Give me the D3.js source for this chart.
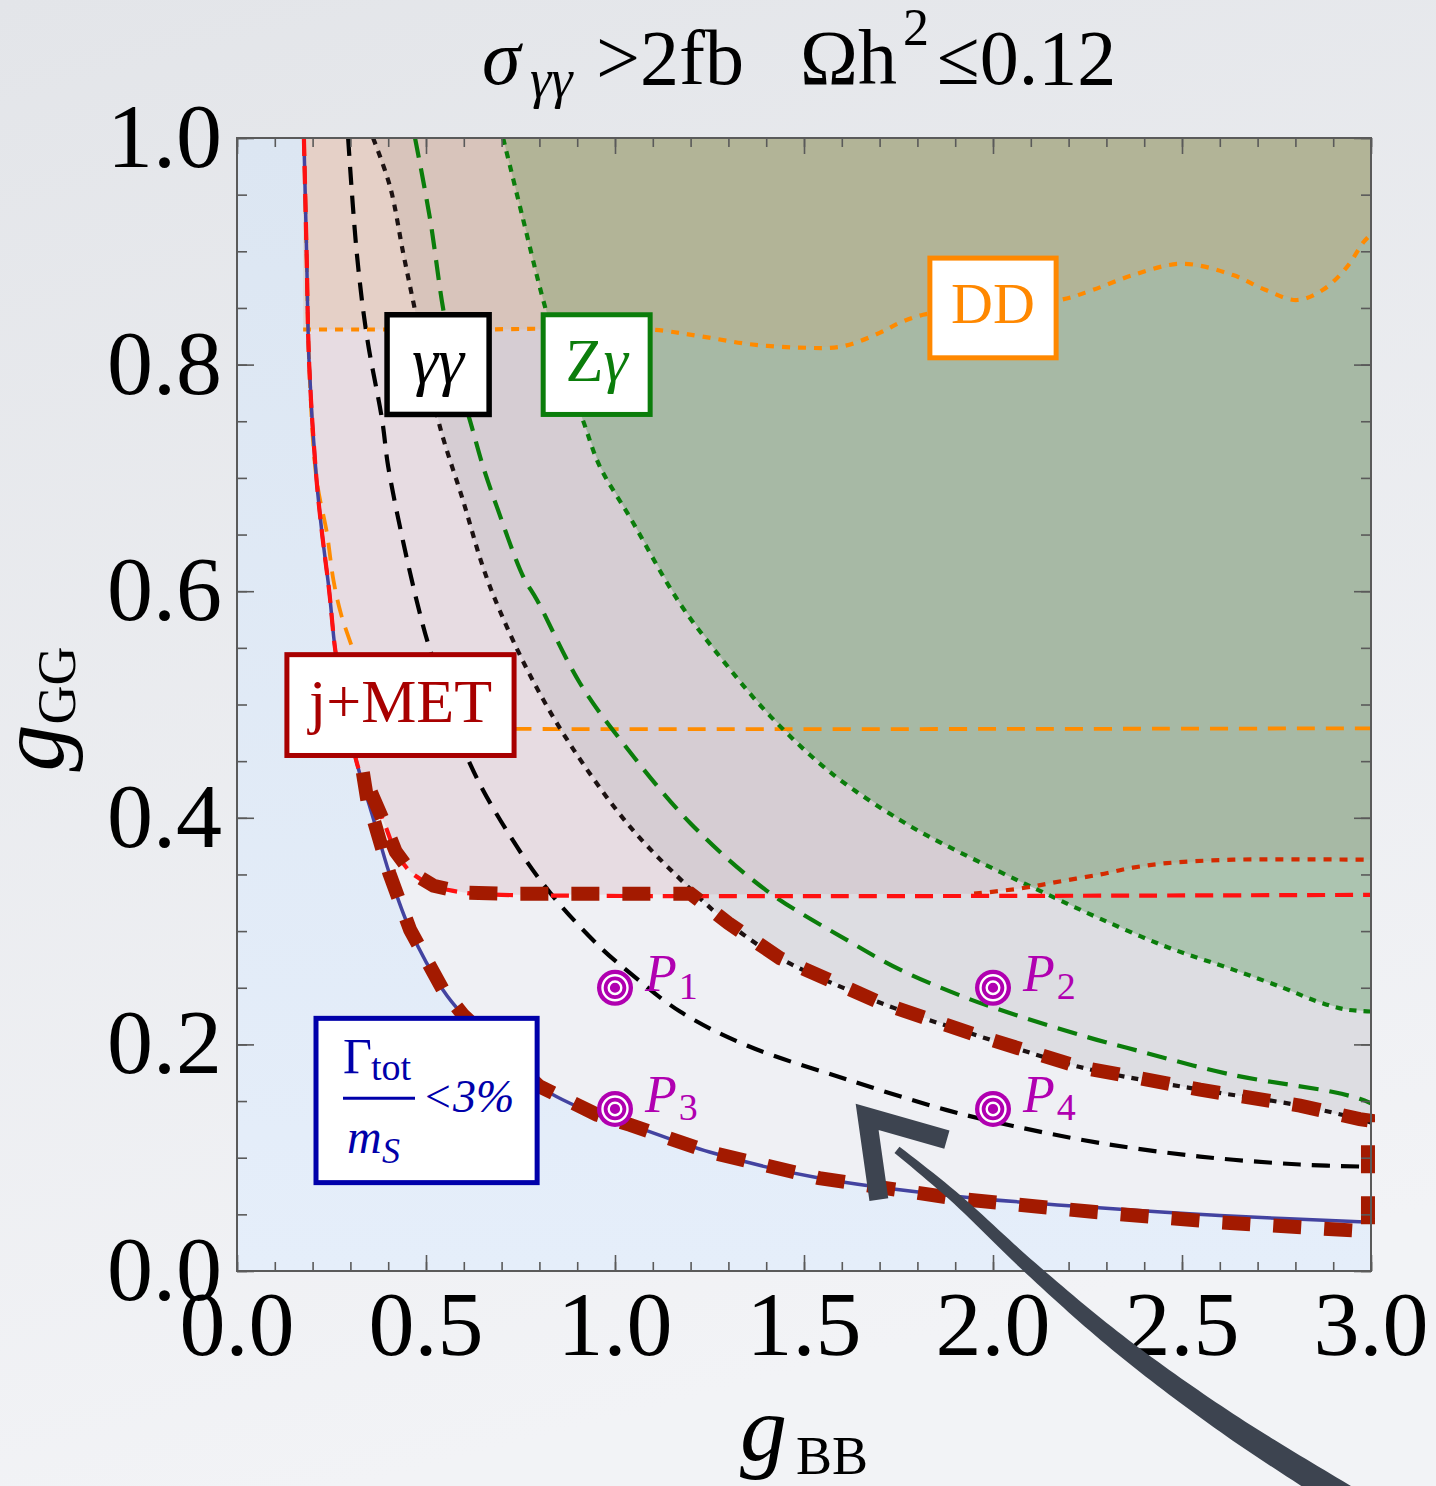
<!DOCTYPE html>
<html>
<head>
<meta charset="utf-8">
<script src="https://cdn.jsdelivr.net/npm/d3@7"></script>
<style>
  body { margin: 0; }
  svg { display: block; }
</style>
</head>
<body>
<svg id="chart" width="1436" height="1486"></svg>
<script>
// ---- data (g_BB, g_GG) ----
const xTickValues = [0, 0.5, 1, 1.5, 2, 2.5, 3];
const yTickValues = [0, 0.2, 0.4, 0.6, 0.8, 1.0];
const xTickLabels = ["0.0", "0.5", "1.0", "1.5", "2.0", "2.5", "3.0"];
const yTickLabels = ["0.0", "0.2", "0.4", "0.6", "0.8", "1.0"];

// Gamma_tot / m_S = 3% (solid blue)
const widthCurve = [[0.177,1.0],[0.184,0.9],[0.191,0.8],[0.21,0.7],[0.225,0.651],[0.244,0.6],[0.26,0.548],
  [0.285,0.5],[0.315,0.451],[0.36,0.40],[0.403,0.351],[0.458,0.301],[0.545,0.248],[0.598,0.226],[0.8,0.163],
  [0.952,0.138],[1.04,0.129],[1.25,0.105],[1.54,0.082],[1.9,0.066],[2.27,0.056],[2.6,0.049],[3.0,0.043]];
// j+MET bound (red dashed)
const metCurve = [[0.177,1.0],[0.184,0.9],[0.191,0.8],[0.21,0.7],[0.225,0.651],[0.244,0.6],[0.26,0.548],
  [0.285,0.5],[0.315,0.451],[0.333,0.433],[0.36,0.418],[0.39,0.395],[0.42,0.37],[0.46,0.352],[0.52,0.34],
  [0.6,0.334],[0.7,0.332],[3.0,0.332]];
// j+MET second bound (red dotted)
const metUpper = [[1.95,0.333],[2.08,0.338],[2.18,0.344],[2.283,0.35],[2.37,0.356],[2.46,0.36],[2.635,0.363],[3.0,0.363]];
// direct detection (orange dotted)
const ddCurve = [[0.175,0.831],[0.6,0.831],[1.09,0.831],[1.225,0.825],[1.357,0.818],[1.49,0.815],[1.6,0.816],
  [1.7,0.828],[1.754,0.837],[1.815,0.844],[1.9,0.848],[2.0,0.852],[2.177,0.857],[2.265,0.866],[2.37,0.879],
  [2.5,0.889],[2.635,0.879],[2.72,0.866],[2.804,0.857],[2.873,0.866],[2.936,0.886],[2.98,0.908],[3.0,0.915]];
// direct detection, second line (orange dashed)
const ddLower = [[0.177,1.0],[0.184,0.9],[0.191,0.8],[0.21,0.7],[0.238,0.651],[0.255,0.61],[0.275,0.58],
  [0.307,0.548],[0.34,0.515],[0.38,0.49],[0.43,0.48],[0.5,0.479],[3.0,0.479]];
// diphoton (black dashed / black dotted)
const aaLower = [[0.294,1.0],[0.317,0.898],[0.344,0.824],[0.384,0.751],[0.40,0.71],[0.44,0.643],[0.484,0.58],
  [0.511,0.548],[0.616,0.448],[0.73,0.38],[0.828,0.334],[0.96,0.286],[1.04,0.263],[1.172,0.229],[1.349,0.199],
  [1.614,0.169],[1.878,0.142],[2.053,0.128],[2.283,0.113],[2.548,0.101],[2.812,0.094],[3.0,0.092]];
const aaUpper = [[0.36,1.0],[0.405,0.957],[0.44,0.898],[0.471,0.848],[0.505,0.795],[0.537,0.745],[0.598,0.68],
  [0.651,0.621],[0.695,0.583],[0.775,0.526],[0.881,0.465],[1.04,0.392],[1.2,0.337],[1.3,0.307],[1.437,0.276],
  [1.7,0.237],[1.966,0.207],[2.23,0.18],[2.548,0.16],[2.812,0.146],[2.97,0.134],[3.0,0.131]];
// Z gamma (green dashed / green dotted)
const zaLower = [[0.471,1.0],[0.511,0.928],[0.545,0.85],[0.58,0.79],[0.616,0.751],[0.651,0.71],[0.688,0.674],
  [0.757,0.613],[0.794,0.592],[0.907,0.519],[1.021,0.466],[1.2,0.395],[1.4,0.336],[1.614,0.292],[1.754,0.266],
  [1.93,0.241],[2.06,0.226],[2.275,0.204],[2.354,0.197],[2.635,0.173],[2.9,0.158],[2.97,0.152],[3.0,0.148]];
const zaUpper = [[0.704,1.0],[0.757,0.928],[0.81,0.857],[0.86,0.8],[0.915,0.751],[0.96,0.71],[1.04,0.665],
  [1.17,0.59],[1.29,0.537],[1.41,0.49],[1.57,0.44],[1.754,0.398],[1.868,0.377],[2.02,0.352],[2.14,0.333],
  [2.283,0.311],[2.46,0.286],[2.635,0.266],[2.767,0.25],[2.857,0.238],[2.93,0.231],[3.0,0.229]];
// outline of the allowed region (thick dark red dashes)
const allowedLoop = [[0.333,0.44],[0.345,0.415],[0.36,0.40],[0.403,0.351],[0.458,0.301],[0.545,0.248],
  [0.598,0.226],[0.8,0.163],[0.952,0.138],[1.04,0.129],[1.25,0.105],[1.54,0.082],[1.9,0.064],[2.27,0.052],
  [2.6,0.043],[2.992,0.035],[2.992,0.133],[2.97,0.134],[2.812,0.146],[2.548,0.16],[2.23,0.18],[1.966,0.207],
  [1.7,0.237],[1.437,0.276],[1.3,0.307],[1.2,0.333],[0.7,0.333],[0.6,0.334],[0.52,0.34],[0.46,0.352],
  [0.42,0.37],[0.39,0.395],[0.36,0.418],[0.333,0.44]];
// benchmark points
const benchNames = ["1", "2", "3", "4"];
const benchX = [1.0, 2.0, 1.0, 2.0];
const benchY = [0.25, 0.25, 0.143, 0.143];

// hand drawn arrow (data units)
const arrowShaft = [[2.939,-0.202],[2.627,-0.136],[2.336,-0.065],[2.098,0.003],[1.899,0.065],[1.746,0.107]];
const arrowHead = [[1.878,0.116],[1.667,0.136],[1.698,0.063]];

// ---- layout ----
const W = 1436, H = 1486;
const x = d3.scaleLinear().domain([0, 3]).range([237, 1371]);
const y = d3.scaleLinear().domain([0, 1]).range([1271, 138]);
const serif = "'Liberation Serif', 'Times New Roman', serif";
const magenta = "#b000b0";

const svg = d3.select("#chart");
const defs = svg.append("defs");

const bg = defs.append("linearGradient").attr("id", "bg")
  .attr("x1", 0).attr("y1", 0).attr("x2", 0.25).attr("y2", 1);
bg.append("stop").attr("offset", "0%").attr("stop-color", "#e3e5e9");
bg.append("stop").attr("offset", "100%").attr("stop-color", "#f2f3f6");

const blueGrad = defs.append("linearGradient").attr("id", "blueGrad")
  .attr("x1", 0).attr("y1", 0).attr("x2", 0).attr("y2", 1);
blueGrad.append("stop").attr("offset", "0%").attr("stop-color", "#dce6f2");
blueGrad.append("stop").attr("offset", "100%").attr("stop-color", "#e5eefa");

defs.append("clipPath").attr("id", "plotClip").append("rect")
  .attr("x", x(0)).attr("y", y(1)).attr("width", x(3) - x(0)).attr("height", y(0) - y(1));

svg.append("rect").attr("width", W).attr("height", H).attr("fill", "url(#bg)");

const curveLine = d3.line().x(d => x(d[0])).y(d => y(d[1])).curve(d3.curveCatmullRom.alpha(0.5));
const polyLine = d3.line().x(d => x(d[0])).y(d => y(d[1]));

const plot = svg.append("g").attr("clip-path", "url(#plotClip)");
plot.append("rect")
  .attr("x", x(0)).attr("y", y(1)).attr("width", x(3) - x(0)).attr("height", y(0) - y(1))
  .attr("fill", "#eff0f4");

// shaded regions
const regions = [
  { pts: [[0, 0], [0, 1]].concat(widthCurve, [[3, 0]]), fill: "url(#blueGrad)", op: 1 },
  { pts: metCurve.filter(p => p[0] < 1.95).concat(metUpper, [[3, 1]]), fill: "#c98e9c", op: 0.2 },
  { pts: aaUpper.concat([[3, 1]]), fill: "#8a8890", op: 0.18 },
  { pts: zaUpper.concat([[3, 1]]), fill: "#3c8c3c", op: 0.3 },
  { pts: ddCurve.concat([[3, 1], [0.175, 1]]), fill: "#e0a060", op: 0.2 }
];
plot.selectAll("path.region")
  .data(regions)
  .join("path")
  .attr("class", "region")
  .attr("d", d => polyLine(d.pts) + "Z")
  .attr("fill", d => d.fill)
  .attr("fill-opacity", d => d.op);

// boundary lines
const lines = [
  { pts: ddLower, color: "#ff8c00", dash: "18,11", w: 3.8 },
  { pts: aaLower, color: "#000000", dash: "18,11", w: 4.2 },
  { pts: aaUpper, color: "#1c1212", dash: "7,7", w: 4.2 },
  { pts: zaLower, color: "#0b7d0b", dash: "20,11", w: 4.2 },
  { pts: zaUpper, color: "#0b7d0b", dash: "7,7", w: 4.2 },
  { pts: ddCurve, color: "#ff8a00", dash: "8,8", w: 4.2 },
  { pts: metUpper, color: "#d42a00", dash: "8,8", w: 4.2 },
  { pts: widthCurve, color: "#4343a0", dash: null, w: 3.5 },
  { pts: metCurve, color: "#ff1111", dash: "18,10", w: 4.2 }
];
plot.selectAll("path.bound")
  .data(lines)
  .join("path")
  .attr("class", "bound")
  .attr("d", d => curveLine(d.pts))
  .attr("fill", "none")
  .attr("stroke", d => d.color)
  .attr("stroke-width", d => d.w)
  .attr("stroke-dasharray", d => d.dash);

// allowed region outline
svg.append("path")
  .attr("d", polyLine(allowedLoop))
  .attr("fill", "none")
  .attr("stroke", "#a31a00")
  .attr("stroke-width", 14)
  .attr("stroke-dasharray", "28,23");

// frame and ticks
const frame = svg.append("g");
const axisColor = "#5a5a5a";
function tickAxis(axis, tx, ty) {
  const g = frame.append("g").attr("transform", `translate(${tx},${ty})`).call(axis);
  g.select(".domain").remove();
  g.selectAll("line").attr("stroke", axisColor).attr("stroke-width", 1.6);
  return g;
}
const xMinor = d3.range(0, 3.0001, 0.1);
const yMinor = d3.range(0, 1.0001, 0.05);
tickAxis(d3.axisBottom(x).tickValues(xMinor).tickSize(-9).tickFormat(""), 0, y(0));
tickAxis(d3.axisBottom(x).tickValues(xTickValues).tickSize(-16).tickFormat(""), 0, y(0));
tickAxis(d3.axisTop(x).tickValues(xMinor).tickSize(-9).tickFormat(""), 0, y(1));
tickAxis(d3.axisTop(x).tickValues(xTickValues).tickSize(-16).tickFormat(""), 0, y(1));
tickAxis(d3.axisLeft(y).tickValues(yMinor).tickSize(-10).tickFormat(""), x(0), 0);
tickAxis(d3.axisLeft(y).tickValues(yTickValues).tickSize(-17).tickFormat(""), x(0), 0);
tickAxis(d3.axisRight(y).tickValues(yMinor).tickSize(-10).tickFormat(""), x(3), 0);
tickAxis(d3.axisRight(y).tickValues(yTickValues).tickSize(-17).tickFormat(""), x(3), 0);
frame.append("rect")
  .attr("x", x(0)).attr("y", y(1)).attr("width", x(3) - x(0)).attr("height", y(0) - y(1))
  .attr("fill", "none").attr("stroke", axisColor).attr("stroke-width", 2);

// label boxes (data units)
const boxes = [
  { x0: 0.397, x1: 0.667, y0: 0.756, y1: 0.844, color: "#000000", w: 5.5 },
  { x0: 0.810, x1: 1.093, y0: 0.756, y1: 0.844, color: "#0b7d0b", w: 5 },
  { x0: 1.833, x1: 2.167, y0: 0.806, y1: 0.894, color: "#ff8800", w: 5 },
  { x0: 0.132, x1: 0.733, y0: 0.455, y1: 0.544, color: "#a80000", w: 5 },
  { x0: 0.209, x1: 0.794, y0: 0.078, y1: 0.223, color: "#0000aa", w: 5 }
];
const boxG = svg.append("g");
boxG.selectAll("rect")
  .data(boxes)
  .join("rect")
  .attr("x", d => x(d.x0)).attr("y", d => y(d.y1))
  .attr("width", d => x(d.x1) - x(d.x0)).attr("height", d => y(d.y0) - y(d.y1))
  .attr("fill", "#ffffff")
  .attr("stroke", d => d.color)
  .attr("stroke-width", d => d.w);

function boxText(b, dy, size) {
  return boxG.append("text")
    .attr("x", (x(b.x0) + x(b.x1)) / 2)
    .attr("y", (y(b.y0) + y(b.y1)) / 2 + dy)
    .attr("text-anchor", "middle")
    .attr("font-family", serif)
    .attr("font-size", size)
    .attr("fill", b.color);
}
boxText(boxes[0], 18, 66).attr("font-style", "italic").text("γγ");
const zt = boxText(boxes[1], 16, 62);
zt.append("tspan").text("Z");
zt.append("tspan").attr("font-style", "italic").text("γ");
boxText(boxes[2], 15, 58).text("DD");
boxText(boxes[3], 17, 62).text("j+MET");

// Gamma_tot / m_S < 3%
const gb = boxes[4];
const gx0 = x(gb.x0), gy0 = y(gb.y1);
const gt = boxG.append("text").attr("font-family", serif).attr("fill", gb.color);
gt.append("tspan").attr("x", gx0 + 27).attr("y", gy0 + 55).attr("font-size", 50).text("Γ");
gt.append("tspan").attr("x", gx0 + 55).attr("y", gy0 + 62).attr("font-size", 38).text("tot");
gt.append("tspan").attr("x", gx0 + 106).attr("y", gy0 + 94).attr("font-size", 46).attr("font-style", "italic").text("<3%");
gt.append("tspan").attr("x", gx0 + 31).attr("y", gy0 + 135).attr("font-size", 48).attr("font-style", "italic").text("m");
gt.append("tspan").attr("x", gx0 + 66).attr("y", gy0 + 145).attr("font-size", 36).attr("font-style", "italic").text("S");
boxG.append("line")
  .attr("x1", gx0 + 27).attr("x2", gx0 + 99).attr("y1", gy0 + 80).attr("y2", gy0 + 80)
  .attr("stroke", gb.color).attr("stroke-width", 3);

// benchmark points
const bench = benchNames.map((n, i) => ({ name: n, x: benchX[i], y: benchY[i] }));
const pts = svg.append("g").selectAll("g")
  .data(bench)
  .join("g")
  .attr("transform", d => `translate(${x(d.x)},${y(d.y)})`);
pts.append("circle").attr("r", 18).attr("fill", magenta);
pts.append("circle").attr("r", 12.5).attr("fill", "none").attr("stroke", "#ffffff").attr("stroke-width", 2.4);
pts.append("circle").attr("r", 6.3).attr("fill", "none").attr("stroke", "#ffffff").attr("stroke-width", 2.4);
const plab = pts.append("text").attr("font-family", serif).attr("fill", magenta);
plab.append("tspan").attr("x", 30).attr("y", 3).attr("font-size", 52).attr("font-style", "italic").text("P");
plab.append("tspan").attr("dx", 2).attr("y", 11).attr("font-size", 38).text(d => d.name);

// tick labels
svg.append("g").selectAll("text")
  .data(xTickValues)
  .join("text")
  .attr("x", d => x(d)).attr("y", 1355)
  .attr("text-anchor", "middle")
  .attr("font-family", serif).attr("font-size", 92).attr("fill", "#000")
  .text((d, i) => xTickLabels[i]);
svg.append("g").selectAll("text")
  .data(yTickValues)
  .join("text")
  .attr("x", 222).attr("y", d => y(d) + 29)
  .attr("text-anchor", "end")
  .attr("font-family", serif).attr("font-size", 92).attr("fill", "#000")
  .text((d, i) => yTickLabels[i]);

// axis titles
const xt = svg.append("text").attr("font-family", serif).attr("fill", "#000");
xt.append("tspan").attr("x", 740).attr("y", 1460).attr("font-size", 94).attr("font-style", "italic").text("g");
xt.append("tspan").attr("x", 796).attr("y", 1474).attr("font-size", 54).text("BB");

const yt = svg.append("text").attr("font-family", serif).attr("fill", "#000")
  .attr("transform", "translate(63,709) rotate(-90)").attr("text-anchor", "middle");
yt.append("tspan").attr("font-size", 94).attr("font-style", "italic").text("g");
yt.append("tspan").attr("font-size", 54).attr("dy", 12).text("GG");

// title
const tt = svg.append("text").attr("font-family", serif).attr("fill", "#000").attr("font-size", 78);
tt.append("tspan").attr("x", 482).attr("y", 84).attr("font-style", "italic").text("σ");
tt.append("tspan").attr("x", 530).attr("y", 97).attr("font-size", 54).attr("font-style", "italic").text("γγ");
tt.append("tspan").attr("x", 596).attr("y", 84).text(">2fb");
tt.append("tspan").attr("x", 800).attr("y", 84).text("Ωh");
tt.append("tspan").attr("x", 903).attr("y", 45).attr("font-size", 52).text("2");
tt.append("tspan").attr("x", 937).attr("y", 84).text("≤0.12");

// hand drawn arrow
const arrowColor = "#3d4450";
const guide = svg.append("path").attr("d", curveLine(arrowShaft))
  .attr("fill", "none").attr("stroke", "none");
const node = guide.node();
const len = node.getTotalLength();
const n = 80;
const left = [], right = [];
for (let i = 0; i <= n; i++) {
  const t = i / n;
  const p = node.getPointAtLength(t * len);
  const q = node.getPointAtLength(Math.min(len, t * len + 1));
  const p0 = node.getPointAtLength(Math.max(0, t * len - 1));
  const dx = q.x - p0.x, dy = q.y - p0.y;
  const m = Math.hypot(dx, dy) || 1;
  const nx = -dy / m, ny = dx / m;
  const w = (27 * (1 - t) + 8 * t) / 2;
  left.push([p.x + nx * w, p.y + ny * w]);
  right.push([p.x - nx * w, p.y - ny * w]);
}
guide.remove();
svg.append("path")
  .attr("d", d3.line()(left.concat(right.reverse())) + "Z")
  .attr("fill", arrowColor);
svg.append("path")
  .attr("d", polyLine(arrowHead))
  .attr("fill", "none")
  .attr("stroke", arrowColor)
  .attr("stroke-width", 19)
  .attr("stroke-linejoin", "miter")
  .attr("stroke-miterlimit", 10);
</script>
</body>
</html>
